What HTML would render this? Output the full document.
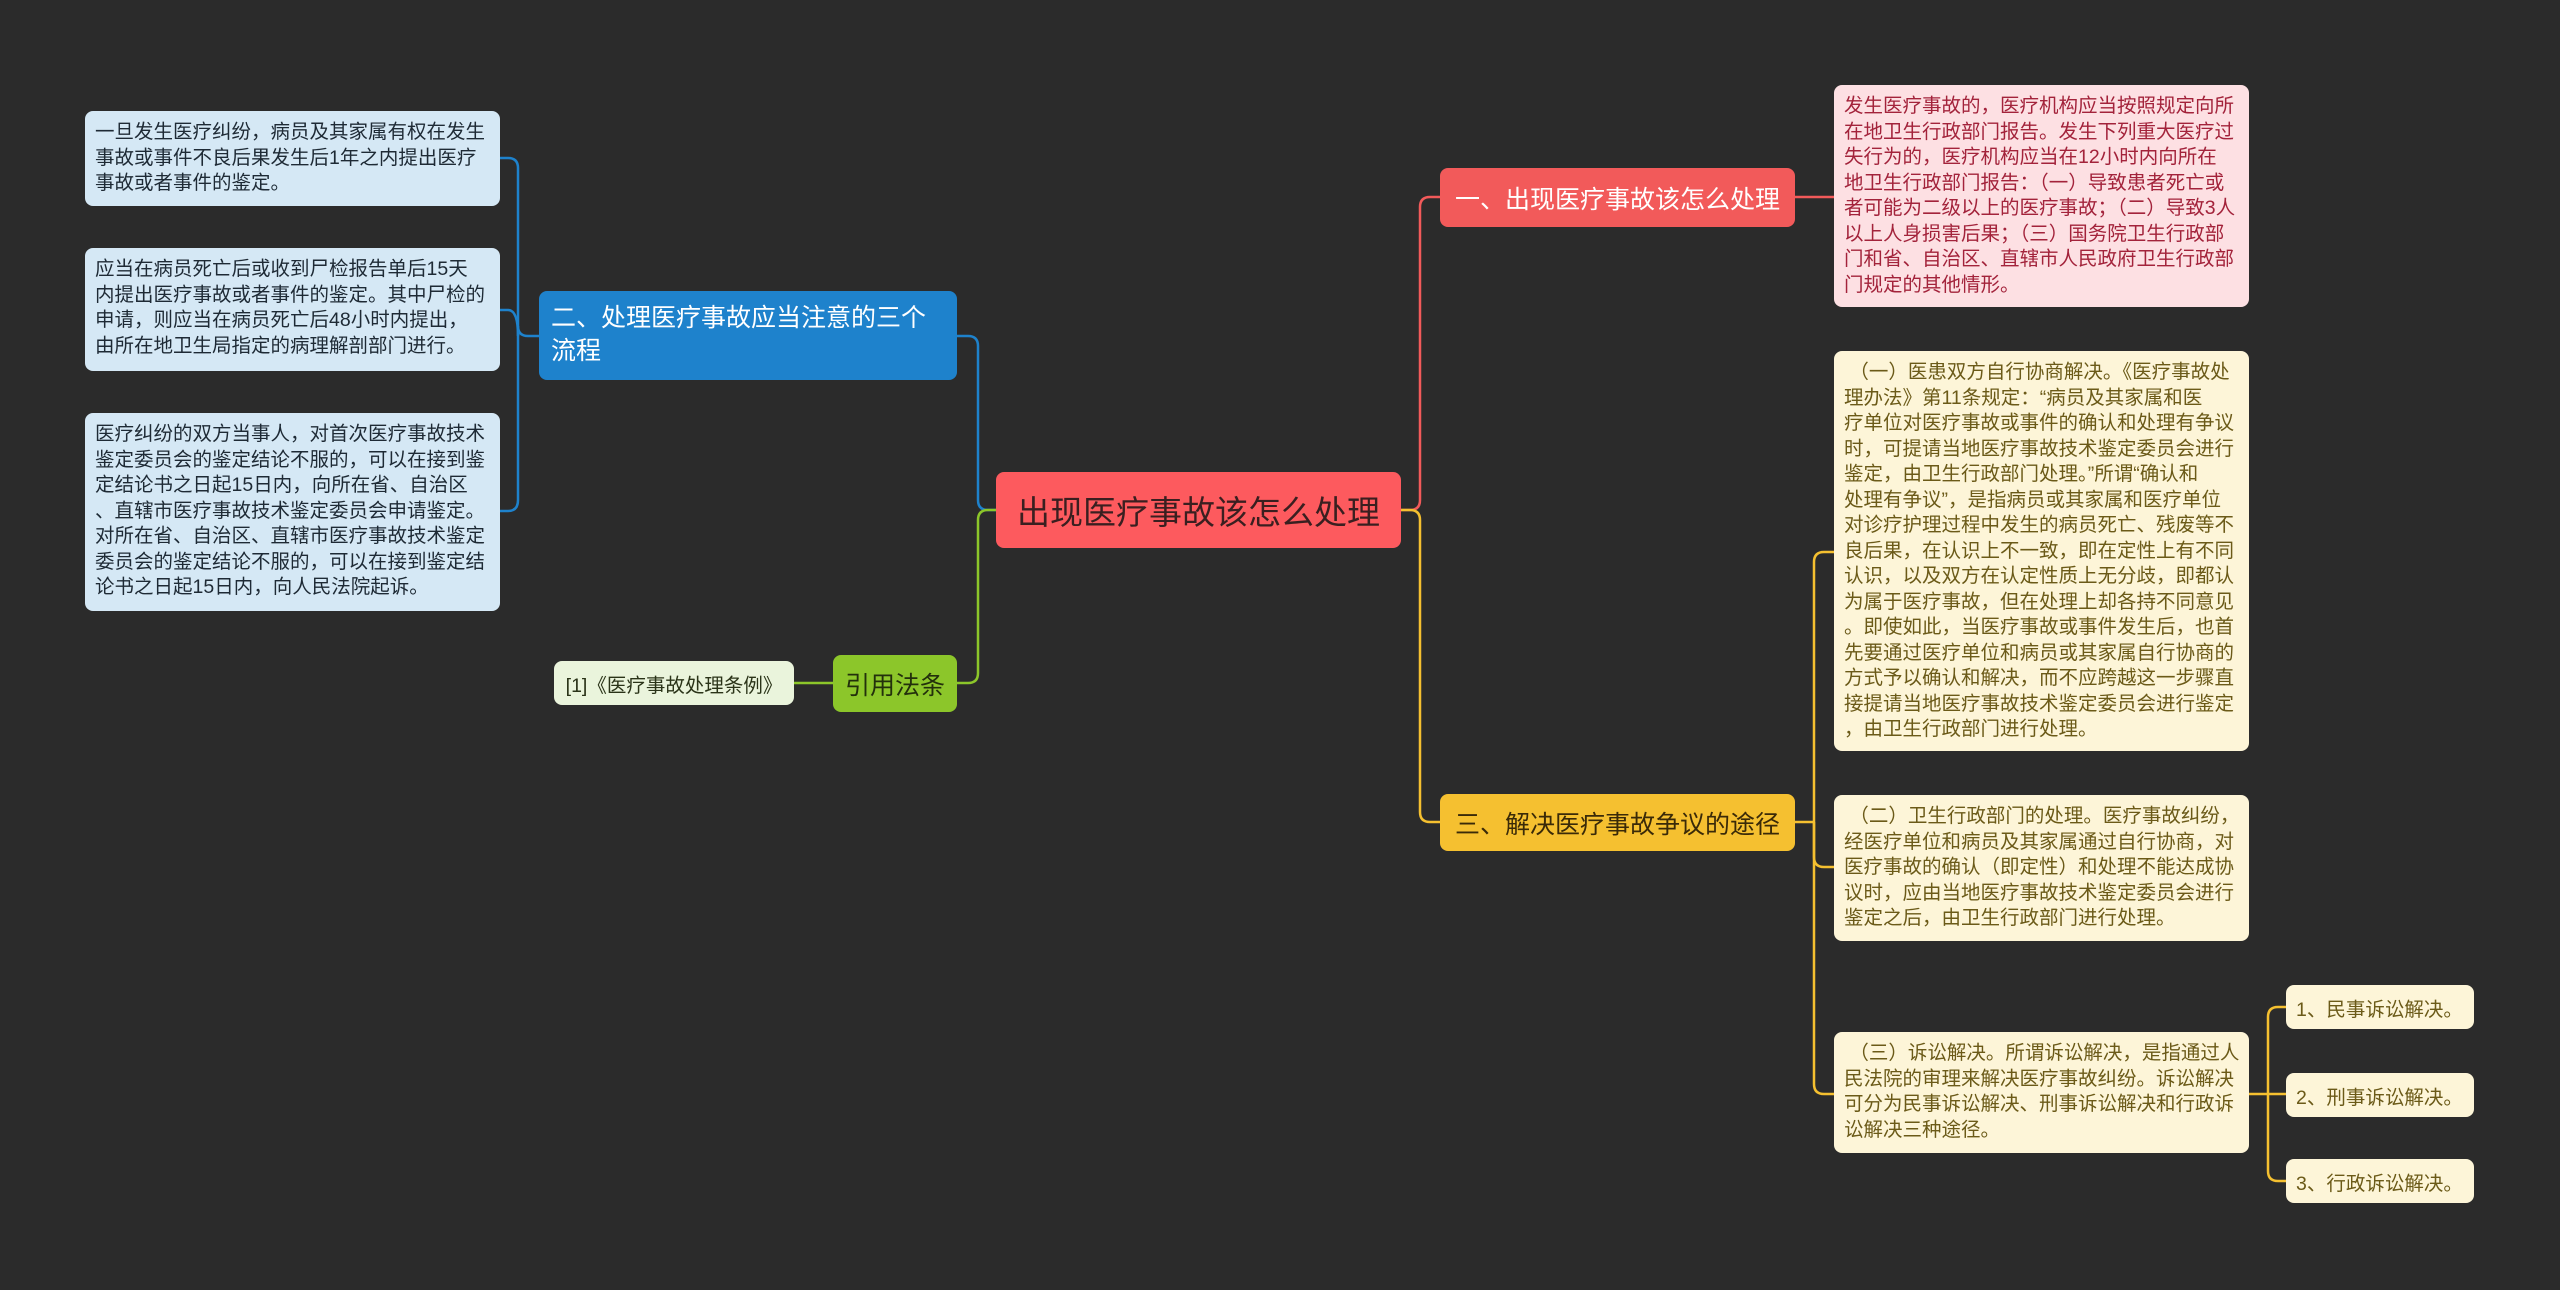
<!DOCTYPE html>
<html><head><meta charset="utf-8"><style>
html,body{margin:0;padding:0;background:#2b2b2b;}
body{width:2560px;height:1290px;position:relative;overflow:hidden;font-family:"Liberation Sans","Noto Sans CJK SC",sans-serif;}
.n{position:absolute;box-sizing:border-box;border-radius:8px;white-space:nowrap;}
.t{font-size:19.5px;line-height:25.5px;padding:9px 10px;}
.lb{background:#d5e8f5;color:#1e2a35;}
.pk{background:#fde0e3;color:#a3233b;}
.yl{background:#fdf5d8;color:#6b5a18;}
.c{display:flex;align-items:center;}
</style></head><body>
<svg width="2560" height="1290" style="position:absolute;left:0;top:0" fill="none" stroke-width="2.5">
<!-- blue -->
<path d="M957 336 H968 Q978 336 978 346 V500 Q978 510 988 510 H996" stroke="#1e82cc"/>
<path d="M539 336 H528 Q518 336 518 326 V168 Q518 158 508 158 H500" stroke="#1e82cc"/>
<path d="M518 336 Q518 310 508 310 H500" stroke="#1e82cc"/>
<path d="M518 326 V500 Q518 511 508 511 H500" stroke="#1e82cc"/>
<!-- green -->
<path d="M957 683 H968 Q978 683 978 673 V520 Q978 510 988 510 H996" stroke="#8cc62a"/>
<path d="M833 683 H794" stroke="#8cc62a"/>
<!-- right -->
<path d="M1401 510 H1410 Q1420 510 1420 500 V207 Q1420 197 1430 197 H1440" stroke="#f25a5a"/>
<path d="M1401 510 H1410 Q1420 510 1420 520 V812 Q1420 822 1430 822 H1440" stroke="#f5c030"/>
<path d="M1795 197 H1834" stroke="#f25a5a"/>
<path d="M1795 822 H1814" stroke="#f5c030"/>
<path d="M1834 552 H1824 Q1814 552 1814 562 V1084 Q1814 1094 1824 1094 H1834" stroke="#f5c030"/>
<path d="M1814 822 V857 Q1814 867 1824 867 H1834" stroke="#f5c030"/>
<path d="M2249 1094 H2268" stroke="#f5c030"/>
<path d="M2286 1007 H2278 Q2268 1007 2268 1017 V1171 Q2268 1181 2278 1181 H2286" stroke="#f5c030"/>
<path d="M2268 1094 H2286" stroke="#f5c030"/>
</svg>

<div class="n c" style="left:996px;top:472px;width:405px;height:76px;background:#fd5a5e;color:#3a1f20;font-size:33px;justify-content:center;">出现医疗事故该怎么处理</div>

<div class="n" style="left:539px;top:291px;width:418px;height:89px;background:#1e82cc;color:#fff;font-size:25px;line-height:33px;padding:11px 12px;">二、处理医疗事故应当注意的三个<br>流程</div>

<div class="n c" style="left:833px;top:655px;width:124px;height:57px;background:#8cc62a;color:#23300c;font-size:25px;justify-content:center;">引用法条</div>
<div class="n c" style="left:554px;top:661px;width:240px;height:44px;background:#eaf4dc;color:#2a3318;font-size:19.5px;justify-content:center;">[1]《医疗事故处理条例》</div>

<div class="n t lb" style="left:85px;top:111px;width:415px;height:95px;">一旦发生医疗纠纷，病员及其家属有权在发生<br>事故或事件不良后果发生后1年之内提出医疗<br>事故或者事件的鉴定。</div>
<div class="n t lb" style="left:85px;top:248px;width:415px;height:123px;">应当在病员死亡后或收到尸检报告单后15天<br>内提出医疗事故或者事件的鉴定。其中尸检的<br>申请，则应当在病员死亡后48小时内提出，<br>由所在地卫生局指定的病理解剖部门进行。</div>
<div class="n t lb" style="left:85px;top:413px;width:415px;height:198px;">医疗纠纷的双方当事人，对首次医疗事故技术<br>鉴定委员会的鉴定结论不服的，可以在接到鉴<br>定结论书之日起15日内，向所在省、自治区<br>、直辖市医疗事故技术鉴定委员会申请鉴定。<br>对所在省、自治区、直辖市医疗事故技术鉴定<br>委员会的鉴定结论不服的，可以在接到鉴定结<br>论书之日起15日内，向人民法院起诉。</div>

<div class="n c" style="left:1440px;top:168px;width:355px;height:59px;background:#f25a5a;color:#fff;font-size:25px;justify-content:center;">一、出现医疗事故该怎么处理</div>
<div class="n c" style="left:1440px;top:794px;width:355px;height:57px;background:#f5c030;color:#3a2a08;font-size:25px;justify-content:center;">三、解决医疗事故争议的途径</div>

<div class="n t pk" style="left:1834px;top:85px;width:415px;height:222px;">发生医疗事故的，医疗机构应当按照规定向所<br>在地卫生行政部门报告。发生下列重大医疗过<br>失行为的，医疗机构应当在12小时内向所在<br>地卫生行政部门报告：（一）导致患者死亡或<br>者可能为二级以上的医疗事故；（二）导致3人<br>以上人身损害后果；（三）国务院卫生行政部<br>门和省、自治区、直辖市人民政府卫生行政部<br>门规定的其他情形。</div>

<div class="n t yl" style="left:1834px;top:351px;width:415px;height:400px;">&nbsp;（一）医患双方自行协商解决。《医疗事故处<br>理办法》第11条规定：“病员及其家属和医<br>疗单位对医疗事故或事件的确认和处理有争议<br>时，可提请当地医疗事故技术鉴定委员会进行<br>鉴定，由卫生行政部门处理。”所谓“确认和<br>处理有争议”，是指病员或其家属和医疗单位<br>对诊疗护理过程中发生的病员死亡、残废等不<br>良后果，在认识上不一致，即在定性上有不同<br>认识，以及双方在认定性质上无分歧，即都认<br>为属于医疗事故，但在处理上却各持不同意见<br>。即使如此，当医疗事故或事件发生后，也首<br>先要通过医疗单位和病员或其家属自行协商的<br>方式予以确认和解决，而不应跨越这一步骤直<br>接提请当地医疗事故技术鉴定委员会进行鉴定<br>，由卫生行政部门进行处理。</div>
<div class="n t yl" style="left:1834px;top:795px;width:415px;height:146px;">&nbsp;（二）卫生行政部门的处理。医疗事故纠纷，<br>经医疗单位和病员及其家属通过自行协商，对<br>医疗事故的确认（即定性）和处理不能达成协<br>议时，应由当地医疗事故技术鉴定委员会进行<br>鉴定之后，由卫生行政部门进行处理。</div>
<div class="n t yl" style="left:1834px;top:1032px;width:415px;height:121px;">&nbsp;（三）诉讼解决。所谓诉讼解决，是指通过人<br>民法院的审理来解决医疗事故纠纷。诉讼解决<br>可分为民事诉讼解决、刑事诉讼解决和行政诉<br>讼解决三种途径。</div>

<div class="n c yl" style="left:2286px;top:985px;width:188px;height:44px;font-size:19.5px;padding-left:10px;">1、民事诉讼解决。</div>
<div class="n c yl" style="left:2286px;top:1073px;width:188px;height:44px;font-size:19.5px;padding-left:10px;">2、刑事诉讼解决。</div>
<div class="n c yl" style="left:2286px;top:1159px;width:188px;height:44px;font-size:19.5px;padding-left:10px;">3、行政诉讼解决。</div>
</body></html>
